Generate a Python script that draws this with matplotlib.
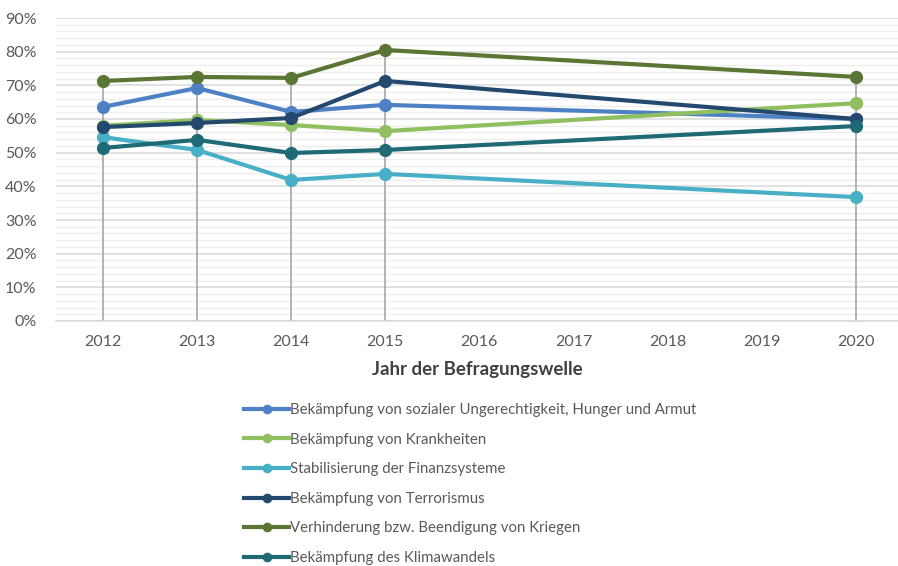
import matplotlib.pyplot as plt
from matplotlib.ticker import MultipleLocator, PercentFormatter

plt.rcParams['font.family'] = ['Lato', 'DejaVu Sans']

years = [2012, 2013, 2014, 2015, 2020]
labels = [
    'Bekämpfung von sozialer Ungerechtigkeit, Hunger und Armut',
    'Bekämpfung von Krankheiten',
    'Stabilisierung der Finanzsysteme',
    'Bekämpfung von Terrorismus',
    'Verhinderung bzw. Beendigung von Kriegen',
    'Bekämpfung des Klimawandels',
]
armut = [63.6, 69.2, 62.1, 64.2, 60.0]
krankheiten = [58.0, 59.7, 58.2, 56.4, 64.7]
finanz = [54.6, 50.8, 41.9, 43.7, 36.8]
terror = [57.6, 58.8, 60.3, 71.3, 60.0]
kriege = [71.3, 72.5, 72.2, 80.5, 72.5]
klima = [51.4, 53.8, 49.9, 50.8, 57.9]
colors = ['#4e81c4', '#8fbf5f', '#47afc6', '#24496f', '#5b7634', '#1f6a74']

series = [armut, krankheiten, finanz, terror, kriege, klima]

fig = plt.figure(figsize=(8.98, 5.66), dpi=100)
ax = fig.add_axes([56 / 898, 1 - 321 / 566, 1 - 56 / 898, 303 / 566])

# drop lines from highest point down to the axis
tops = [max(vals) for vals in zip(*series)]
ax.vlines(years, 0, tops, color='#a6a6a6', lw=1.2, zorder=2)

for vals, lab, c in zip(series, labels, colors):
    ax.plot(years, vals, color=c, lw=3, marker='o', markersize=8.5,
            label=lab, zorder=3)

ax.set_ylim(0, 90)
ax.set_xlim(2011.5, 2020.45)
ax.set_xticks(range(2012, 2021))
ax.yaxis.set_major_locator(MultipleLocator(10))
ax.yaxis.set_minor_locator(MultipleLocator(2))
ax.yaxis.set_major_formatter(PercentFormatter(decimals=0))
ax.grid(axis='y', which='major', color='#d9d9d9', lw=1.1, zorder=0)
ax.grid(axis='y', which='minor', color='#eeeeee', lw=1.0, zorder=0)
for s in ['top', 'right', 'left']:
    ax.spines[s].set_visible(False)
ax.spines['bottom'].set_color('#d9d9d9')
ax.spines['bottom'].set_linewidth(1.1)
ax.tick_params(axis='both', which='both', length=0, labelsize=11.5,
               labelcolor='#595959')
ax.tick_params(axis='y', pad=14)
ax.tick_params(axis='x', pad=10)
ax.set_xlabel('Jahr der Befragungswelle', fontsize=13.5, fontweight='bold',
              color='#404040', labelpad=9)

fig.legend(loc='upper left', bbox_to_anchor=(244 / 898, 1 - 403 / 566),
           frameon=False, fontsize=10.8, labelcolor='#595959',
           handlelength=3.0, handletextpad=0.1, labelspacing=1.04,
           markerscale=0.7, borderaxespad=0, borderpad=0)

fig.savefig('out.png', dpi=100)
